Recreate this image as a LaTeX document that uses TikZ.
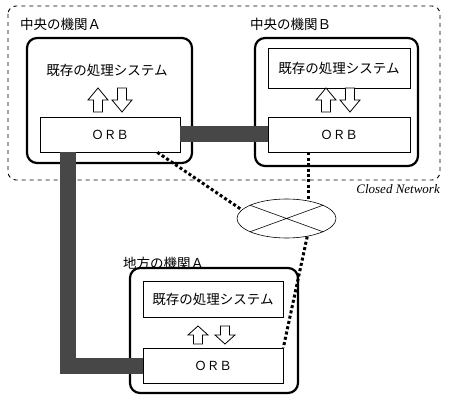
\documentclass[tikz,border=0pt]{standalone}
\usepackage{fontspec}
\usetikzlibrary{shapes.geometric,calc}
\newfontfamily\jp{Noto Sans CJK JP}
\newfontfamily\clsd{Liberation Serif}

\begin{document}
\begin{tikzpicture}[x=1pt,y=-1pt,
  org/.style={draw,line width=2.2pt,rounded corners=10pt,inner sep=0pt},
  sysbox/.style={draw,line width=0.7pt,inner sep=0pt,minimum width=141pt,minimum height=37pt,font=\jp\fontsize{13.5}{16}\selectfont},
  orbbox/.style={draw,line width=0.7pt,inner sep=0pt,fill=white,font=\jp\fontsize{12.5}{14}\selectfont},
  lbl/.style={anchor=west,inner sep=0pt,font=\jp\fontsize{13.5}{16}\selectfont},
  band/.style={line width=16pt,draw=black!72},
  dotline/.style={line width=3pt,dash pattern=on 3pt off 2.4pt},
  uparr/.pic={\draw[line width=0.8pt,fill=white] (-4.5,0) -- (-4.5,-12) -- (-10,-12) -- (0,-24) -- (10,-12) -- (4.5,-12) -- (4.5,0) -- cycle;},
  dnarr/.pic={\draw[line width=0.8pt,fill=white] (-4.5,-24) -- (-4.5,-12) -- (-10,-12) -- (0,0) -- (10,-12) -- (4.5,-12) -- (4.5,-24) -- cycle;}]
  \useasboundingbox (0,0) rectangle (450,401);
  \draw[line width=0.9pt,dash pattern=on 4pt off 4pt,rounded corners=8pt] (8,6) rectangle (440,180);
  \node[anchor=north east,inner sep=0pt,font=\clsd\itshape\fontsize{13}{15}\selectfont] (closed) at (440,184) {Closed Network};

  % central A
  \node[org,minimum width=165pt,minimum height=125pt] (boxA) at (109.5,100.5) {};
  \node[lbl] (labA) at (20,24) {中央の機関Ａ};
  \node[font=\jp\fontsize{13.5}{16}\selectfont,inner sep=0pt] (sysA) at (107,70) {既存の処理システム};
  \node[orbbox,minimum width=140pt,minimum height=35pt] (orbA) at (110,134.5) {ＯＲＢ};
  \pic at (98,112) {uparr};
  \pic at (122,112) {dnarr};

  % central B
  \node[org,minimum width=163pt,minimum height=128pt] (boxB) at (336.5,102) {};
  \node[lbl] (labB) at (250,24) {中央の機関Ｂ};
  \node[sysbox,minimum width=142pt,minimum height=40pt] (sysB) at (339,68) {既存の処理システム};
  \node[orbbox,minimum width=142pt,minimum height=35pt] (orbB) at (339,134.5) {ＯＲＢ};
  \pic at (326,112) {uparr};
  \pic at (350,112) {dnarr};

  % local A
  \node[org,minimum width=168pt,minimum height=125pt] (boxL) at (214,330.5) {};
  \node[lbl] (labL) at (123,263) {地方の機関Ａ};
  \node[sysbox,minimum width=140pt,minimum height=36pt] (sysL) at (213,299) {既存の処理システム};
  \node[orbbox,minimum width=140pt,minimum height=35pt] (orbL) at (213,365.5) {ＯＲＢ};
  \pic[yscale=0.75] at (198,344) {uparr};
  \pic[yscale=0.75] at (225,344) {dnarr};

  \node[ellipse,draw,line width=0.6pt,minimum width=99pt,minimum height=39pt,inner sep=0pt] (net) at (286.5,218.5) {};
  \draw[line width=0.6pt] (net.160) -- (net.340) (net.20) -- (net.200);

  \coordinate (bend) at (67.5,365.5);
  \draw[band] (orbA.east) -- (orbB.west);
  \draw[band] (orbA.south -| bend) |- (orbL.west);

  \draw[dotline] ($(orbA.south east)+(-23,0)$) -- (net.169);
  \draw[dotline] (orbB.south -| net.39) -- (net.39);
  \draw[dotline] (net.319) -- (orbL.north east);
\end{tikzpicture}
\end{document}
